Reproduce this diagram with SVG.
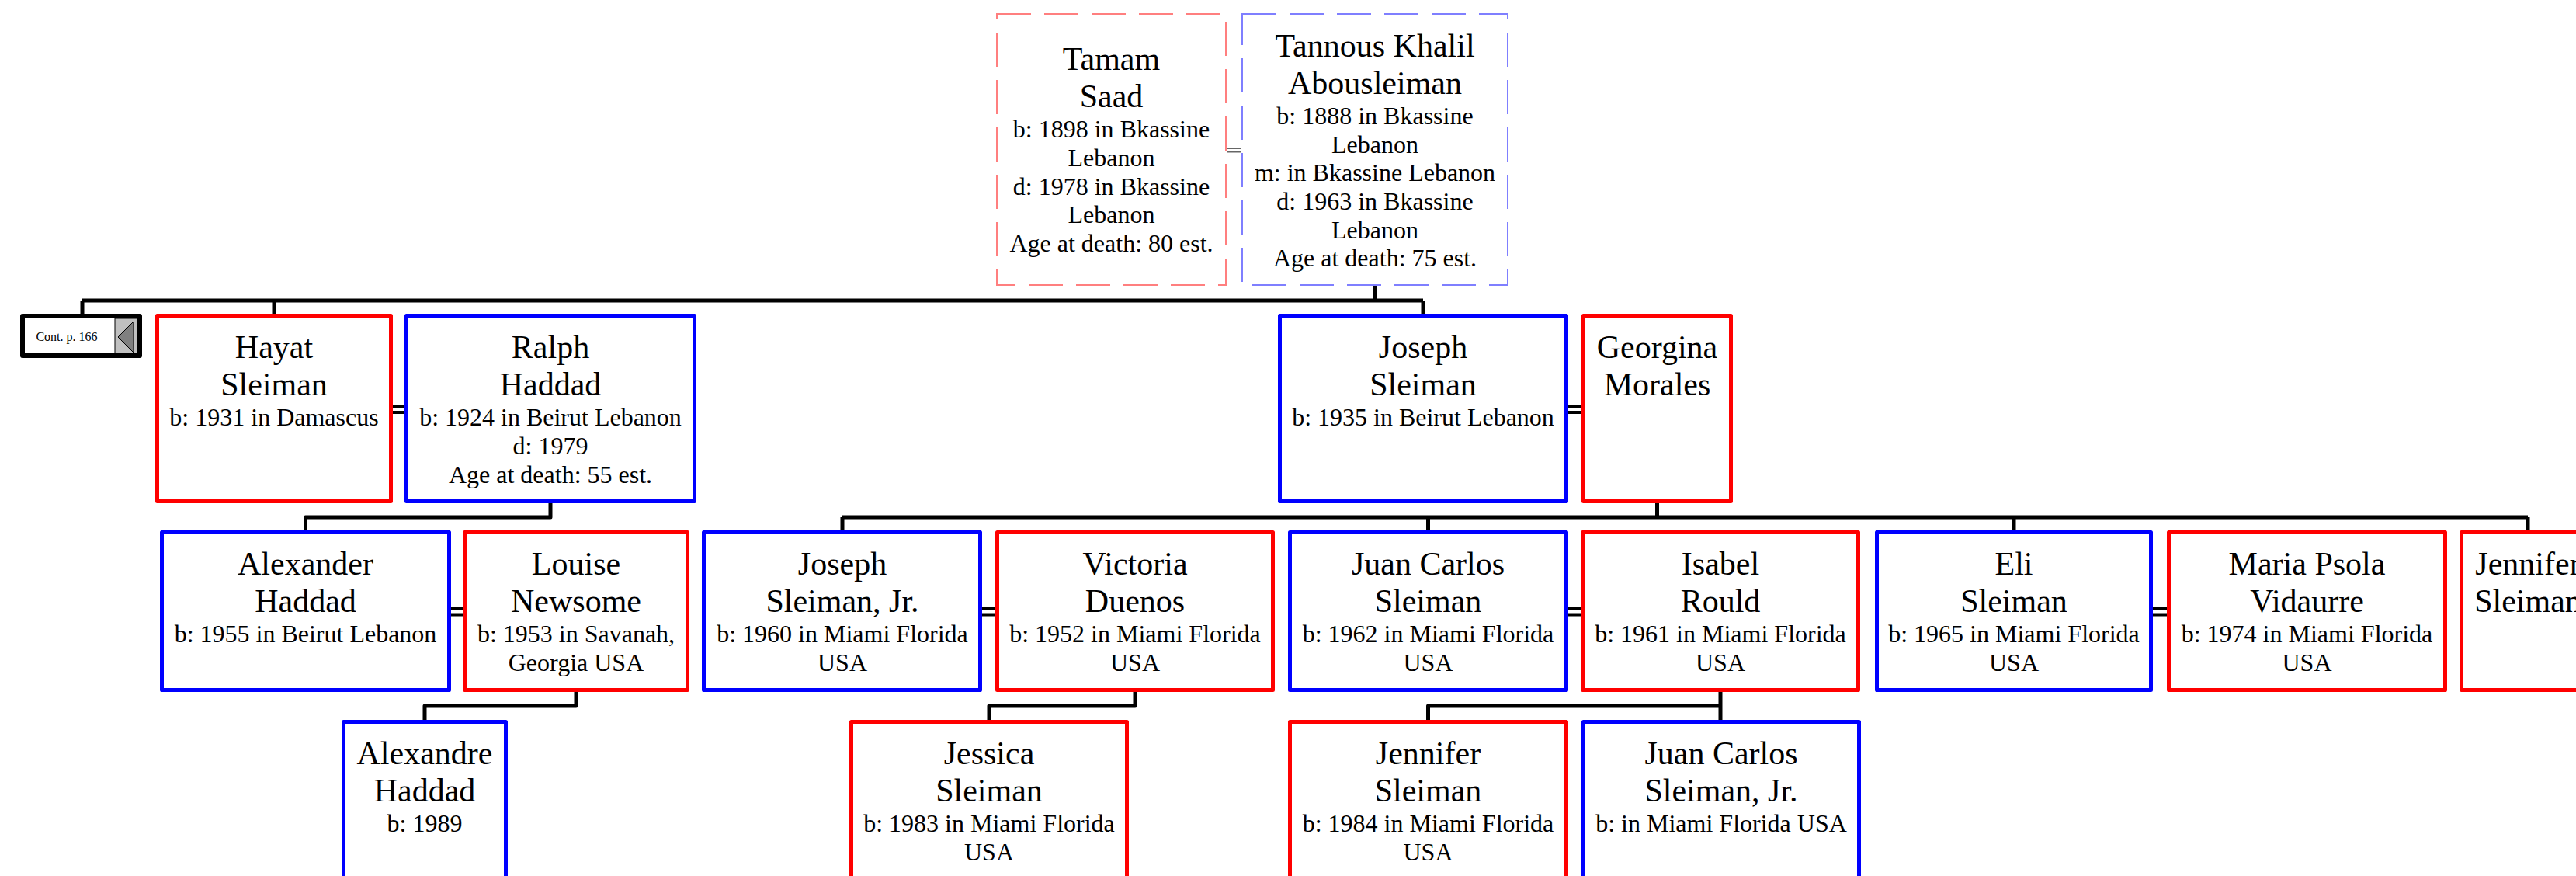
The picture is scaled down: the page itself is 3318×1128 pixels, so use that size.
<svg xmlns="http://www.w3.org/2000/svg" width="3318" height="1128" viewBox="0 0 3318 1128">
<style>
text{font-family:"Liberation Serif","Times New Roman",serif;fill:#000;text-anchor:middle}
.n{font-size:42px}
.d{font-size:32px}
.m{fill:#fff;stroke:#0000ff;stroke-width:5;stroke-linejoin:round}
.f{fill:#fff;stroke:#ff0000;stroke-width:5;stroke-linejoin:round}
.dm{fill:#fff;stroke:#7f7fff;stroke-width:2;stroke-dasharray:44 17}
.df{fill:#fff;stroke:#ff7f7f;stroke-width:2;stroke-dasharray:44 17}
.c{fill:none;stroke:#000;stroke-width:5;stroke-linejoin:round;stroke-linecap:butt}
.mar{stroke:#000;stroke-width:4}
</style>
<rect width="3318" height="1128" fill="#fff"/>
<g id="connectors">
<path class="c" d="M1771 368V387M106 387H1833M106 387V404M353 387V404M1833 387V404"/>
<path class="c" d="M709 648V666H393.5V683"/>
<path class="c" d="M2134.5 648V666M1085 666H3256M1085 666V683M1839.5 666V683M2594 666V683M3256 666V683"/>
<path class="c" d="M742 891V909H547V927"/>
<path class="c" d="M1462 891V909H1274V927"/>
<path class="c" d="M2216 891V927M2216 909H1839.5V927"/>
<g stroke="#666" stroke-width="2"><line x1="1580" y1="191" x2="1599" y2="191"/><line x1="1580" y1="195.5" x2="1599" y2="195.5"/></g>
<g class="mar"><line x1="506" y1="523" x2="521" y2="523"/><line x1="506" y1="531" x2="521" y2="531"/>
<line x1="2020" y1="523" x2="2037" y2="523"/><line x1="2020" y1="531" x2="2037" y2="531"/>
<line x1="581" y1="783.5" x2="596" y2="783.5"/><line x1="581" y1="791.5" x2="596" y2="791.5"/>
<line x1="1265" y1="783.5" x2="1282" y2="783.5"/><line x1="1265" y1="791.5" x2="1282" y2="791.5"/>
<line x1="2020" y1="783.5" x2="2036" y2="783.5"/><line x1="2020" y1="791.5" x2="2036" y2="791.5"/>
<line x1="2773" y1="783.5" x2="2791" y2="783.5"/><line x1="2773" y1="791.5" x2="2791" y2="791.5"/></g>
</g>
<g id="tamam"><rect class="df" x="1284" y="18" width="295" height="349"/>
<text class="n" x="1431.5" y="90">Tamam</text><text class="n" x="1431.5" y="138">Saad</text>
<text class="d" x="1431.5" y="177">b: 1898 in Bkassine</text><text class="d" x="1431.5" y="214">Lebanon</text>
<text class="d" x="1431.5" y="251">d: 1978 in Bkassine</text><text class="d" x="1431.5" y="287">Lebanon</text>
<text class="d" x="1431.5" y="324">Age at death: 80 est.</text></g>
<g id="tannous"><rect class="dm" x="1600" y="18" width="342" height="349"/>
<text class="n" x="1771" y="73">Tannous Khalil</text><text class="n" x="1771" y="121">Abousleiman</text>
<text class="d" x="1771" y="160">b: 1888 in Bkassine</text><text class="d" x="1771" y="197">Lebanon</text>
<text class="d" x="1771" y="233">m: in Bkassine Lebanon</text><text class="d" x="1771" y="270">d: 1963 in Bkassine</text>
<text class="d" x="1771" y="307">Lebanon</text><text class="d" x="1771" y="343">Age at death: 75 est.</text></g>
<g id="cont"><rect x="29" y="407" width="151" height="51" fill="#fff" stroke="#000" stroke-width="6" stroke-linejoin="round"/>
<rect x="148" y="410" width="29" height="45" fill="#c0c0c0" stroke="#000" stroke-width="1"/>
<polygon points="152,434 172,414 172,454" fill="#808080" stroke="#000" stroke-width="1"/>
<text x="86" y="439" style="font-size:16px">Cont. p. 166</text></g>
<g id="hayat"><rect class="f" x="202.5" y="406.5" width="301" height="239"/>
<text class="n" x="353" y="461">Hayat</text><text class="n" x="353" y="509">Sleiman</text>
<text class="d" x="353" y="548">b: 1931 in Damascus</text></g>
<g id="ralph"><rect class="m" x="523.5" y="406.5" width="371" height="239"/>
<text class="n" x="709" y="461">Ralph</text><text class="n" x="709" y="509">Haddad</text>
<text class="d" x="709" y="548">b: 1924 in Beirut Lebanon</text><text class="d" x="709" y="585">d: 1979</text>
<text class="d" x="709" y="622">Age at death: 55 est.</text></g>
<g id="joseph"><rect class="m" x="1648.5" y="406.5" width="369" height="239"/>
<text class="n" x="1833" y="461">Joseph</text><text class="n" x="1833" y="509">Sleiman</text>
<text class="d" x="1833" y="548">b: 1935 in Beirut Lebanon</text></g>
<g id="georgina"><rect class="f" x="2039.5" y="406.5" width="190" height="239"/>
<text class="n" x="2134.5" y="461">Georgina</text><text class="n" x="2134.5" y="509">Morales</text></g>
<g id="alexander"><rect class="m" x="208.5" y="685.5" width="370" height="203"/>
<text class="n" x="393.5" y="740">Alexander</text><text class="n" x="393.5" y="788">Haddad</text>
<text class="d" x="393.5" y="827">b: 1955 in Beirut Lebanon</text></g>
<g id="louise"><rect class="f" x="598.5" y="685.5" width="287" height="203"/>
<text class="n" x="742" y="740">Louise</text><text class="n" x="742" y="788">Newsome</text>
<text class="d" x="742" y="827">b: 1953 in Savanah,</text><text class="d" x="742" y="864">Georgia USA</text></g>
<g id="josephjr"><rect class="m" x="906.5" y="685.5" width="356" height="203"/>
<text class="n" x="1085" y="740">Joseph</text><text class="n" x="1085" y="788">Sleiman, Jr.</text>
<text class="d" x="1085" y="827">b: 1960 in Miami Florida</text><text class="d" x="1085" y="864">USA</text></g>
<g id="victoria"><rect class="f" x="1284.5" y="685.5" width="355" height="203"/>
<text class="n" x="1462" y="740">Victoria</text><text class="n" x="1462" y="788">Duenos</text>
<text class="d" x="1462" y="827">b: 1952 in Miami Florida</text><text class="d" x="1462" y="864">USA</text></g>
<g id="juancarlos"><rect class="m" x="1661.5" y="685.5" width="356" height="203"/>
<text class="n" x="1839.5" y="740">Juan Carlos</text><text class="n" x="1839.5" y="788">Sleiman</text>
<text class="d" x="1839.5" y="827">b: 1962 in Miami Florida</text><text class="d" x="1839.5" y="864">USA</text></g>
<g id="isabel"><rect class="f" x="2038.5" y="685.5" width="355" height="203"/>
<text class="n" x="2216" y="740">Isabel</text><text class="n" x="2216" y="788">Rould</text>
<text class="d" x="2216" y="827">b: 1961 in Miami Florida</text><text class="d" x="2216" y="864">USA</text></g>
<g id="eli"><rect class="m" x="2417.5" y="685.5" width="353" height="203"/>
<text class="n" x="2594" y="740">Eli</text><text class="n" x="2594" y="788">Sleiman</text>
<text class="d" x="2594" y="827">b: 1965 in Miami Florida</text><text class="d" x="2594" y="864">USA</text></g>
<g id="maria"><rect class="f" x="2793.5" y="685.5" width="356" height="203"/>
<text class="n" x="2971.5" y="740">Maria Psola</text><text class="n" x="2971.5" y="788">Vidaurre</text>
<text class="d" x="2971.5" y="827">b: 1974 in Miami Florida</text><text class="d" x="2971.5" y="864">USA</text></g>
<g id="jennifer1"><rect class="f" x="3170.5" y="685.5" width="167" height="203"/>
<text class="n" x="3256" y="740">Jennifer</text><text class="n" x="3256" y="788">Sleiman</text></g>
<g id="alexandre"><rect class="m" x="442.5" y="929.5" width="209" height="220"/>
<text class="n" x="547" y="984">Alexandre</text><text class="n" x="547" y="1032">Haddad</text>
<text class="d" x="547" y="1071">b: 1989</text></g>
<g id="jessica"><rect class="f" x="1096.5" y="929.5" width="355" height="220"/>
<text class="n" x="1274" y="984">Jessica</text><text class="n" x="1274" y="1032">Sleiman</text>
<text class="d" x="1274" y="1071">b: 1983 in Miami Florida</text><text class="d" x="1274" y="1108">USA</text></g>
<g id="jennifer2"><rect class="f" x="1661.5" y="929.5" width="356" height="220"/>
<text class="n" x="1839.5" y="984">Jennifer</text><text class="n" x="1839.5" y="1032">Sleiman</text>
<text class="d" x="1839.5" y="1071">b: 1984 in Miami Florida</text><text class="d" x="1839.5" y="1108">USA</text></g>
<g id="juancarlosjr"><rect class="m" x="2039.5" y="929.5" width="355" height="220"/>
<text class="n" x="2217" y="984">Juan Carlos</text><text class="n" x="2217" y="1032">Sleiman, Jr.</text>
<text class="d" x="2217" y="1071">b: in Miami Florida USA</text></g>
</svg>
